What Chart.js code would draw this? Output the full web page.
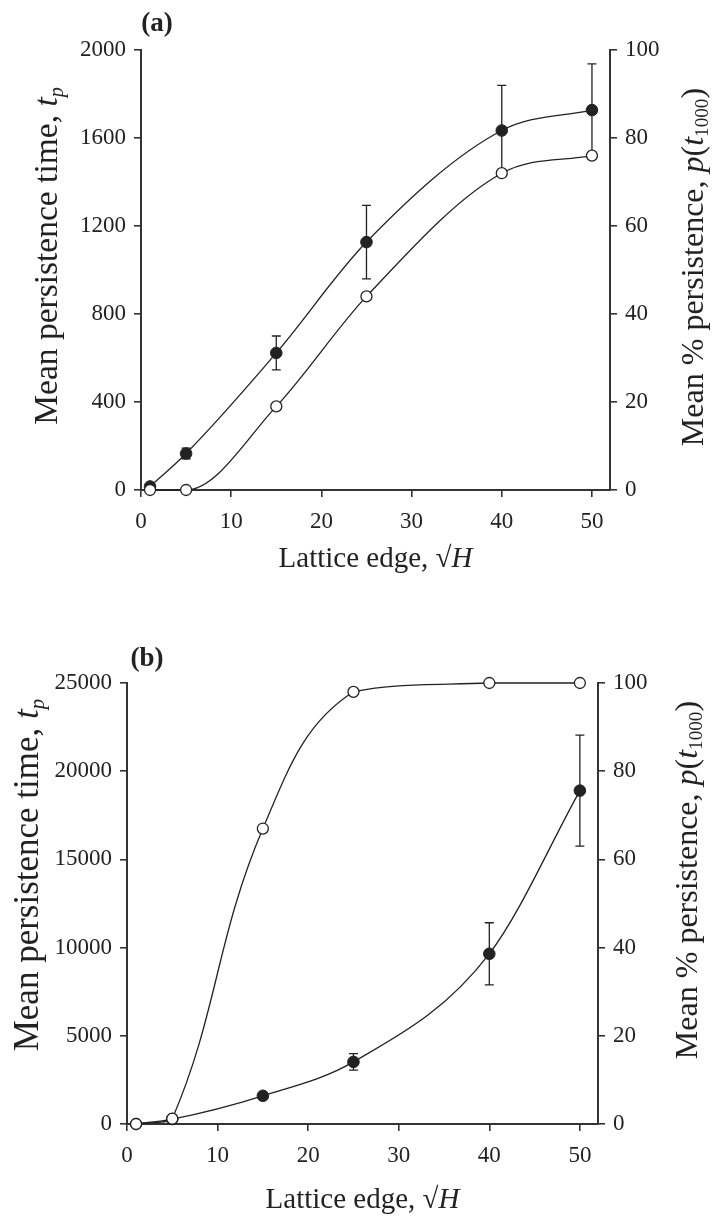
<!DOCTYPE html>
<html>
<head>
<meta charset="utf-8">
<script src="https://cdn.jsdelivr.net/npm/chart.js@4"></script>
<style>
  body { margin: 0; background: #fff; }
  .panel { position: absolute; left: 0; }
</style>
</head>
<body>
<canvas id="chart-a" class="panel" width="712" height="600" style="top:0"></canvas>
<canvas id="chart-b" class="panel" width="712" height="623" style="top:600px"></canvas>
<script>
// Data
const latticeEdge = [1, 5, 15, 25, 40, 50];

// panel (a)
const timeA = [16, 166, 623, 1127, 1634, 1727];
const timeErrA = [0, 24, 77, 167, 205, 210];
const persistA = [0, 0, 19, 44, 72, 76];

// panel (b)
const timeB = [0, 280, 1600, 3520, 9650, 18900];
const timeErrB = [0, 0, 0, 470, 1760, 3150];
const persistB = [0, 1.2, 67, 98, 100, 100];

const xTicks = [0, 10, 20, 30, 40, 50];
const timeTicksA = [0, 400, 800, 1200, 1600, 2000];
const timeTicksB = [0, 5000, 10000, 15000, 20000, 25000];
const persistTicks = [0, 20, 40, 60, 80, 100];

const ink = '#222';
const serif = '"Liberation Serif", "Times New Roman", serif';

function drawRich (ctx, parts, cx, cy, rot, size) {
    ctx.save();
    ctx.translate(cx, cy);
    ctx.rotate(rot);
    const fontOf = p => (p.bold ? 'bold ' : '') + (p.italic ? 'italic ' : '') + (p.sub ? size * 0.6 : size) + 'px ' + serif;
    let total = 0;
    parts.forEach(p => { ctx.font = fontOf(p); p.w = ctx.measureText(p.text).width; total += p.w; });
    let x = -total / 2;
    ctx.textBaseline = 'alphabetic';
    ctx.fillStyle = ink;
    parts.forEach(p => {
        ctx.font = fontOf(p);
        ctx.fillText(p.text, x, size * 0.33 + (p.sub ? size * 0.18 : 0));
        x += p.w;
    });
    ctx.restore();
}

// error bars for the filled series
const errorBars = {
    id: 'errorBars',
    beforeDatasetsDraw (chart, args, opts) {
        const ctx = chart.ctx;
        const xs = chart.scales.x, ys = chart.scales.y;
        ctx.save();
        ctx.strokeStyle = ink;
        ctx.lineWidth = 1.3;
        latticeEdge.forEach((xv, i) => {
            const e = opts.err[i];
            if (!e) return;
            const px = xs.getPixelForValue(xv);
            const top = ys.getPixelForValue(opts.values[i] + e);
            const bot = ys.getPixelForValue(opts.values[i] - e);
            ctx.beginPath();
            ctx.moveTo(px, top); ctx.lineTo(px, bot);
            ctx.moveTo(px - 4.5, top); ctx.lineTo(px + 4.5, top);
            ctx.moveTo(px - 4.5, bot); ctx.lineTo(px + 4.5, bot);
            ctx.stroke();
        });
        ctx.restore();
    }
};

// panel letter and axis titles (mixed italic / subscript)
const labels = {
    id: 'labels',
    afterDraw (chart, args, opts) {
        const ctx = chart.ctx;
        const a = chart.chartArea;
        drawRich(ctx, [{ text: opts.letter, bold: true }], a.left + opts.letterDx, opts.letterY, 0, 27);
        drawRich(ctx, [
            { text: 'Mean persistence time, ' },
            { text: 't', italic: true },
            { text: 'p', italic: true, sub: true }
        ], opts.leftX, opts.leftY, -Math.PI / 2, opts.leftSize);
        drawRich(ctx, [
            { text: 'Mean % persistence, ' },
            { text: 'p', italic: true },
            { text: '(' },
            { text: 't', italic: true },
            { text: '1000', sub: true },
            { text: ')' }
        ], opts.rightX, opts.rightY, -Math.PI / 2, opts.rightSize);
        drawRich(ctx, [
            { text: 'Lattice edge, \u221A' },
            { text: 'H', italic: true }
        ], (a.left + a.right) / 2, opts.bottomY, 0, 29);
    }
};

function fixedTicks (values) {
    return scale => { scale.ticks = values.map(v => ({ value: v })); };
}

function plainNumber (v) {
    return String(v);
}

function axisStyle (position, ticksArr, size, pad) {
    return {
        type: 'linear',
        position: position,
        min: ticksArr[0],
        max: ticksArr[ticksArr.length - 1],
        afterBuildTicks: fixedTicks(ticksArr),
        afterFit: s => { s.width = size; },
        border: { display: true, color: '#333', width: 2 },
        grid: { display: true, drawOnChartArea: false, drawTicks: true, tickLength: 7, color: '#333', lineWidth: 1.6 },
        ticks: { color: ink, padding: pad, callback: plainNumber, font: { family: serif, size: 23 } }
    };
}

function makePanel (canvasId, cfg) {
    return new Chart(document.getElementById(canvasId), {
        type: 'line',
        data: {
            datasets: [
                {
                    label: 'persistence',
                    data: latticeEdge.map((x, i) => ({ x: x, y: cfg.persist[i] })),
                    yAxisID: 'y1',
                    order: 0,
                    borderColor: ink,
                    borderWidth: 1.3,
                    pointRadius: 5.5,
                    pointBorderWidth: 1.3,
                    pointBorderColor: ink,
                    pointBackgroundColor: '#fff',
                    cubicInterpolationMode: cfg.openMode,
                    tension: 0.4,
                    clip: false
                },
                {
                    label: 'time',
                    data: latticeEdge.map((x, i) => ({ x: x, y: cfg.time[i] })),
                    yAxisID: 'y',
                    order: 1,
                    borderColor: ink,
                    borderWidth: 1.3,
                    pointRadius: 5.8,
                    pointBorderWidth: 1,
                    pointBorderColor: ink,
                    pointBackgroundColor: ink,
                    cubicInterpolationMode: 'monotone',
                    clip: false
                }
            ]
        },
        options: {
            responsive: false,
            animation: false,
            layout: { padding: { top: cfg.top, left: 0, right: 0, bottom: 0 } },
            scales: {
                x: {
                    type: 'linear',
                    min: 0,
                    max: 52,
                    afterBuildTicks: fixedTicks(xTicks),
                    afterFit: s => { s.height = cfg.xH; },
                    border: { display: true, color: '#333', width: 2 },
                    grid: { display: true, drawOnChartArea: false, drawTicks: true, tickLength: 7, color: '#333', lineWidth: 1.6 },
                    ticks: { color: ink, padding: cfg.xPad, maxRotation: 0, callback: plainNumber, font: { family: serif, size: 23 } }
                },
                y: axisStyle('left', cfg.timeTicks, cfg.leftW, 8),
                y1: axisStyle('right', persistTicks, cfg.rightW, 8)
            },
            plugins: {
                legend: { display: false },
                tooltip: { enabled: false },
                errorBars: { err: cfg.err, values: cfg.time },
                labels: cfg.labels
            }
        },
        plugins: [errorBars, labels]
    });
}

makePanel('chart-a', {
    time: timeA, err: timeErrA, persist: persistA, timeTicks: timeTicksA, openMode: 'monotone',
    top: 50, xH: 110, leftW: 141, rightW: 102, xPad: 11,
    labels: {
        letter: '(a)', letterDx: 16, letterY: 22,
        leftX: 46, leftY: 256, leftSize: 33.5,
        rightX: 692, rightY: 267, rightSize: 32,
        bottomY: 557
    }
});

makePanel('chart-b', {
    time: timeB, err: timeErrB, persist: persistB, timeTicks: timeTicksB, openMode: 'default',
    top: 83, xH: 99, leftW: 127, rightW: 114, xPad: 11,
    labels: {
        letter: '(b)', letterDx: 20, letterY: 57,
        leftX: 26, leftY: 275, leftSize: 35,
        rightX: 686, rightY: 280, rightSize: 32,
        bottomY: 598
    }
});
</script>
</body>
</html>
